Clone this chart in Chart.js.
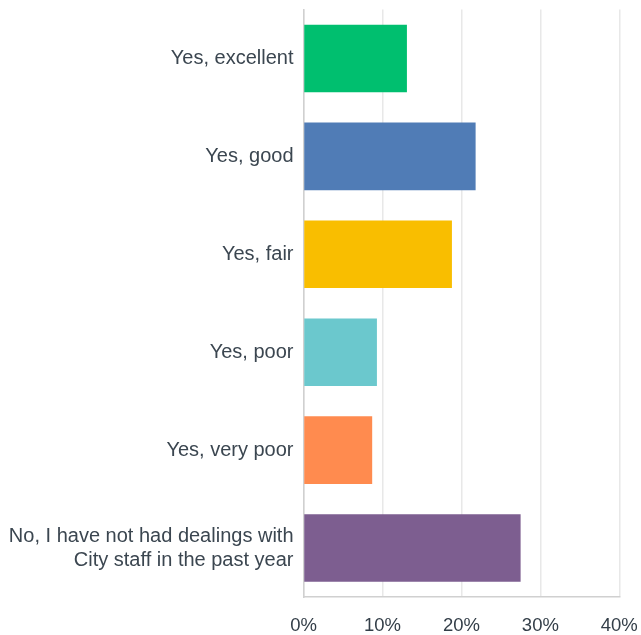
<!DOCTYPE html>
<html>
<head>
<meta charset="utf-8">
<script src="https://cdn.jsdelivr.net/npm/chart.js@4"></script>
<style>
  body { margin: 0; background: #fff; }
  #wrap { width: 641px; height: 635px; }
</style>
</head>
<body>
<div id="wrap"><canvas id="myChart"></canvas></div>
<script>
const categories = [
    'Yes, excellent',
    'Yes, good',
    'Yes, fair',
    'Yes, poor',
    'Yes, very poor',
    ['No, I have not had dealings with', 'City staff in the past year']
];
const percentages = [13.1, 21.8, 18.8, 9.3, 8.7, 27.5];
const barColors = ['#00BF6F', '#507CB6', '#F9BE00', '#6BC8CD', '#FF8B4F', '#7D5E90'];
const xTicks = [0, 10, 20, 30, 40];

getContext();
function getContext() {
    const data = {
        labels: categories,
        datasets: [{
            label: 'Responses',
            data: percentages,
            backgroundColor: barColors,
            barPercentage: 0.69,
            categoryPercentage: 1
        }]
    };
    generateChart(data);
}

function generateChart(data) {
    const ctx = document.getElementById('myChart');
    new Chart(ctx, {
        type: 'bar',
        data: data,
        options: {
            indexAxis: 'y',
            responsive: true,
            maintainAspectRatio: false,
            animation: false,
            layout: { padding: { top: 9.5, right: 21.7, left: 0, bottom: 0 } },
            scales: {
                x: {
                    min: 0,
                    max: 40,
                    afterBuildTicks: function (scale) {
                        scale.ticks = xTicks.map(v => ({ value: v }));
                    },
                    afterFit: function (scale) {
                        scale.height = 38;
                        scale.paddingLeft = 0;
                        scale.paddingRight = 0;
                    },
                    grid: { color: '#e8e8e8', lineWidth: 1.5, drawTicks: false },
                    border: { color: '#d0d0d0', width: 1.5 },
                    ticks: {
                        padding: 18,
                        color: '#333e48',
                        font: { family: 'Liberation Sans', size: 18.5 },
                        callback: v => v + '%'
                    }
                },
                y: {
                    afterFit: function (scale) {
                        scale.width = 303.5;
                        scale.paddingTop = 0;
                        scale.paddingBottom = 0;
                    },
                    grid: { display: false, drawTicks: false },
                    border: { color: '#d0d0d0', width: 1.5 },
                    ticks: {
                        padding: 10,
                        color: '#3b4650',
                        font: { family: 'Liberation Sans', size: 20, lineHeight: 1.2 }
                    }
                }
            },
            plugins: {
                legend: { display: false },
                tooltip: { enabled: false }
            }
        }
    });
}
</script>
</body>
</html>
